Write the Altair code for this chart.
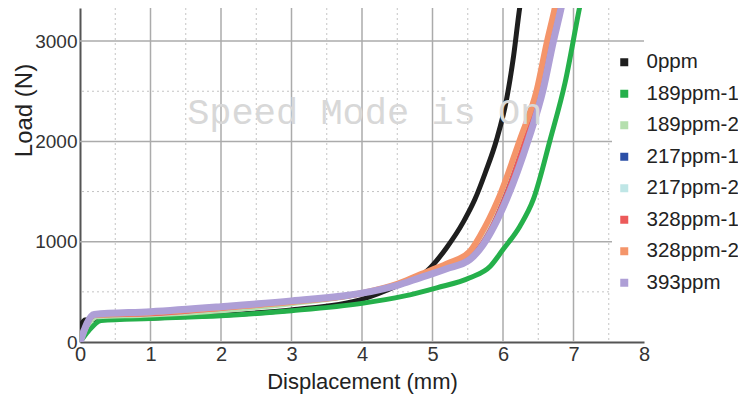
import altair as alt
import pandas as pd

series = ["0ppm", "189ppm-1", "189ppm-2", "217ppm-1", "217ppm-2", "328ppm-1", "328ppm-2", "393ppm"]
colors = ["#1e1e1e", "#25b04b", "#b5dfae", "#2b4fa6", "#bfe6e6", "#ec5a5a", "#f4956a", "#ae9fd6"]
widths = [5, 5, 2.5, 2.5, 2.5, 2.5, 6, 7]

x_0ppm = [0, 0.07, 0.25, 1, 2, 3, 4, 4.5, 4.92, 5.2, 5.44, 5.6, 5.75, 5.91, 6.05, 6.15, 6.24, 6.27]
y_0ppm = [150, 220, 225, 240, 268, 320, 425, 560, 706, 940, 1200, 1420, 1690, 2019, 2418, 2850, 3348, 3480]

x_189_1 = [0, 0.12, 0.3, 1, 2, 3, 4, 4.59, 5.06, 5.53, 5.82, 6.0, 6.24, 6.43, 6.67, 6.88, 7.09, 7.12]
y_189_1 = [0, 110, 215, 235, 262, 312, 385, 457, 540, 640, 756, 922, 1155, 1421, 2019, 2584, 3348, 3450]

x_189_2 = [0, 0.25, 0.9, 2, 3, 4, 4.82, 5.53, 5.7, 5.97, 6.28, 6.51, 6.65, 6.77, 6.8]
y_189_2 = [0, 240, 255, 300, 370, 470, 650, 870, 1010, 1421, 2019, 2518, 2984, 3348, 3450]

x_217_1 = [0, 0.2, 1, 2, 3, 4, 4.82, 5.53, 5.7, 5.98, 6.3, 6.52, 6.66, 6.78, 6.8]
y_217_1 = [0, 280, 300, 350, 405, 485, 650, 850, 990, 1421, 2019, 2518, 2984, 3348, 3450]

x_217_2 = [0, 0.2, 1, 2, 3, 4, 4.82, 5.53, 5.7, 5.96, 6.27, 6.5, 6.64, 6.77, 6.8]
y_217_2 = [0, 288, 310, 362, 418, 498, 662, 880, 1020, 1421, 2019, 2518, 2984, 3348, 3450]

x_328_1 = [0, 0.2, 1, 2, 3, 4, 4.82, 5.53, 5.7, 6.0, 6.3, 6.53, 6.67, 6.79, 6.81]
y_328_1 = [0, 252, 268, 322, 388, 472, 655, 860, 1000, 1421, 2019, 2518, 2984, 3348, 3450]

x_328_2 = [0, 0.2, 1, 2, 3, 4, 4.5, 4.82, 5.2, 5.53, 5.67, 5.93, 6.24, 6.48, 6.62, 6.74, 6.77]
y_328_2 = [0, 268, 292, 342, 398, 488, 580, 673, 780, 905, 1055, 1421, 2019, 2518, 2984, 3348, 3450]

x_393 = [0, 0.2, 1, 2, 3, 4, 4.5, 4.82, 5.2, 5.53, 5.72, 6.05, 6.36, 6.57, 6.71, 6.83, 6.86]
y_393 = [0, 275, 302, 352, 410, 487, 565, 640, 730, 822, 972, 1421, 2019, 2518, 2984, 3348, 3450]

x_ticks = [0, 1, 2, 3, 4, 5, 6, 7, 8]
y_ticks = [0, 1000, 2000, 3000]
major_x = [1, 2, 3, 4, 5, 6, 7]
minor_x = [0.5, 1.5, 2.5, 3.5, 4.5, 5.5, 6.5, 7.5]
major_y = [1000, 2000, 3000]
minor_y = [500, 1500, 2500]

watermark_text = ["Speed Mode is On"]
watermark_x = [1.52]
watermark_y = [2175]

xs = [x_0ppm, x_189_1, x_189_2, x_217_1, x_217_2, x_328_1, x_328_2, x_393]
ys = [y_0ppm, y_189_1, y_189_2, y_217_1, y_217_2, y_328_1, y_328_2, y_393]

rows = []
for name, w, xv, yv in zip(series, widths, xs, ys):
    for i, (a, b) in enumerate(zip(xv, yv)):
        rows.append({"series": name, "x": a, "y": b, "i": i, "w": w})
df = pd.DataFrame(rows)

xscale = alt.Scale(domain=[0, 8], nice=False, zero=False)
yscale = alt.Scale(domain=[0, 3330], nice=False, zero=False)

xaxis = alt.Axis(values=x_ticks, title="Displacement (mm)", grid=False, ticks=False, format="d",
                 labelFont="Liberation Sans", labelFontSize=20, labelColor="#333333",
                 labelPadding=2, titleFont="Liberation Sans", titleFontSize=22,
                 titleFontWeight="normal", titleColor="#222222", titlePadding=7,
                 domainColor="#555555", domainWidth=2, labelFlush=False)
yaxis = alt.Axis(values=y_ticks, title="Load (N)", grid=False, ticks=False, format="d",
                 labelFont="Liberation Sans", labelFontSize=19, labelColor="#333333",
                 labelPadding=3, titleFont="Liberation Sans", titleFontSize=24,
                 titleFontWeight="normal", titleColor="#222222",
                 titleX=-56, titleY=102, titleAngle=270, titleAlign="center",
                 titleBaseline="middle",
                 domainColor="#555555", domainWidth=2, labelFlush=False)

X = alt.X("x:Q", scale=xscale, axis=xaxis)
Y = alt.Y("y:Q", scale=yscale, axis=yaxis)

minor_v = alt.Chart(pd.DataFrame({"x": minor_x})).mark_rule(
    color="#c4c4c4", strokeWidth=1, strokeDash=[2, 3]).encode(x=X)
minor_h = alt.Chart(pd.DataFrame({"y": minor_y})).mark_rule(
    color="#c4c4c4", strokeWidth=1, strokeDash=[2, 3]).encode(y=Y)
major_v = alt.Chart(pd.DataFrame({"x": major_x})).mark_rule(
    color="#ababab", strokeWidth=1.5).encode(x=X)
major_h = alt.Chart(pd.DataFrame({"y": major_y})).mark_rule(
    color="#ababab", strokeWidth=1.5).encode(y=Y)

lines = alt.Chart(df).mark_line(clip=True, strokeJoin="round", strokeCap="round",
                                interpolate="monotone").encode(
    x=X, y=Y,
    color=alt.Color("series:N", scale=alt.Scale(domain=series, range=colors),
                    legend=alt.Legend(title=None, orient="none", legendX=532, legendY=42,
                                      fillColor="white", padding=2, symbolType="square",
                                      symbolSize=16, symbolStrokeWidth=4,
                                      labelFont="Liberation Sans", labelFontSize=20.5,
                                      labelColor="#222222", rowPadding=10.5,
                                      labelOffset=12, labelLimit=200)),
    strokeWidth=alt.StrokeWidth("w:Q", scale=None, legend=None),
    order=alt.Order("i:Q"),
    detail="series:N",
)

wm = alt.Chart(pd.DataFrame({"t": watermark_text, "x": watermark_x, "y": watermark_y})).mark_text(
    font="Liberation Mono", fontSize=37, color="#d8d8d8", align="left", baseline="alphabetic"
).encode(x=X, y=Y, text="t:N")

chart = alt.layer(minor_v, minor_h, major_v, major_h, lines, wm).properties(
    width=564, height=334,
    autosize=alt.AutoSizeParams(type="none"),
    padding={"left": 72, "top": 0, "right": 94, "bottom": 55},
).configure_view(stroke=None)

chart.save("out.html", embed_options={"renderer": "svg", "actions": False})
